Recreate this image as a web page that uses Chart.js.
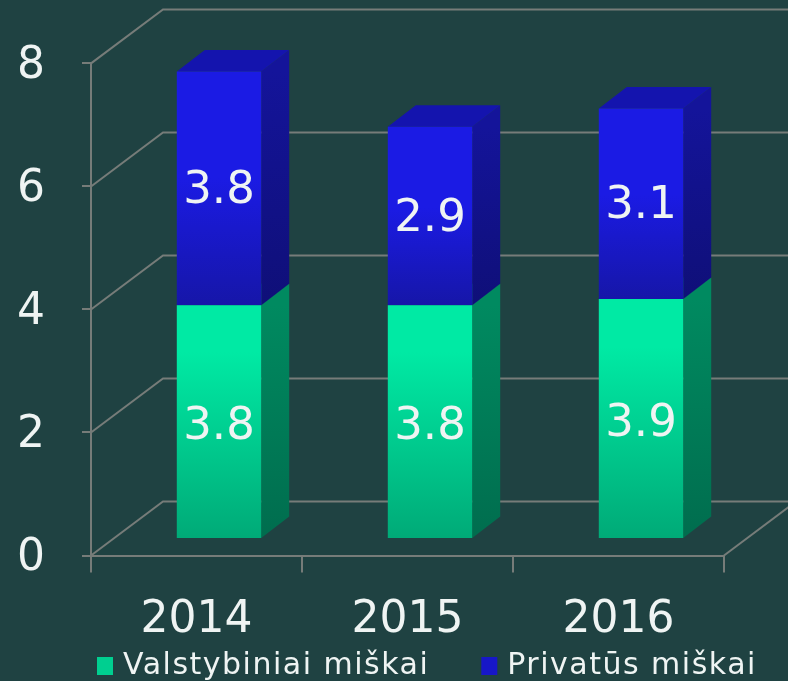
<!DOCTYPE html>
<html><head><meta charset="utf-8">
<style>html,body{margin:0;padding:0;background:#1f4242}canvas{display:block;filter:blur(0.7px)}</style>
<script src="https://cdn.jsdelivr.net/npm/chart.js@4/dist/chart.umd.min.js"></script>
</head><body><canvas id="c" width="788" height="681"></canvas>
<script>
const categories = ["2014", "2015", "2016"];
const stateForests = [3.8, 3.8, 3.9];
const privateForests = [3.8, 2.9, 3.1];
const seriesNames = ["Valstybiniai miškai", "Privatūs miškai"];
const yTicks = [0, 2, 4, 6, 8];

const FONT = '"DejaVu Sans", Verdana, sans-serif';
const BG = '#1f4242', GRID = '#767c79', TEXT = '#eff4f3';
const SHIFT = {x: 22.5, y: -16.5};      // front plane of the bars vs. axis plane
const BAR_DEPTH = {x: 28, y: -21.5};
const WALL_DEPTH = {x: 72, y: -54};
const LEGEND_SPACING = '1.5px';
const LABEL_NUDGE = [6, 3];             // vertical nudge of value labels per series
const Y_LABEL_NUDGE = 3;

const palette = [
  {top:'#00eaa4', bottom:'#00aa77', sideTop:'#008a60', sideBottom:'#006d4e', cap:'#00a070', swatch:'#00cf90'},
  {top:'#1b1be4', bottom:'#1616a8', sideTop:'#14149a', sideBottom:'#0f0f78', cap:'#1414ae', swatch:'#1717c8'}
];

function frontFill(ds) {
  return (ctx) => {
    const chart = ctx.chart, y = chart.scales.y;
    if (!y || ctx.dataIndex === undefined) return palette[ds].top;
    const base = ds === 1 ? stateForests[ctx.dataIndex] : 0;
    const val = ds === 1 ? privateForests[ctx.dataIndex] : stateForests[ctx.dataIndex];
    const g = chart.ctx.createLinearGradient(0, y.getPixelForValue(base + val), 0, y.getPixelForValue(base));
    g.addColorStop(0, palette[ds].top);
    g.addColorStop(ds === 1 ? 0.45 : 0.2, palette[ds].top);
    g.addColorStop(1, palette[ds].bottom);
    return g;
  };
}

const scene = {
  id: 'scene',
  beforeLayout(chart) {
    const lg = chart.legend;
    if (lg && !lg._wrapped) {
      lg._wrapped = true;
      const fit = lg.fit, draw = lg.draw;
      lg.fit = function () {
        this.ctx.letterSpacing = LEGEND_SPACING;
        fit.call(this);
        this.ctx.letterSpacing = '0px';
        this.height = 0;
      };
      lg.draw = function () {
        this.ctx.letterSpacing = LEGEND_SPACING;
        draw.call(this);
        this.ctx.letterSpacing = '0px';
      };
    }
  },
  afterLayout(chart) {
    const lg = chart.legend;
    lg.left = 45; lg.right = 1000; lg.width = 955;
    lg.top = 594; lg.bottom = 681;
    const ys = chart.scales.y;
    if (!ys._wrapped) {
      ys._wrapped = true;
      const drawLabels = ys.drawLabels;
      ys.drawLabels = function (area) {
        this.ctx.save();
        this.ctx.translate(0, Y_LABEL_NUDGE);
        drawLabels.call(this, area);
        this.ctx.restore();
      };
    }
  },
  beforeDraw(chart) {
    const c = chart.ctx;
    c.save(); c.fillStyle = BG; c.fillRect(0, 0, chart.width, chart.height); c.restore();
  },
  beforeDatasetsDraw(chart) {
    const c = chart.ctx, {x, y} = chart.scales;
    c.save();
    c.strokeStyle = GRID; c.lineWidth = 2;
    y.ticks.forEach(t => {
      const py = y.getPixelForValue(t.value);
      c.beginPath();
      c.moveTo(x.left, py);
      c.lineTo(x.left + WALL_DEPTH.x, py + WALL_DEPTH.y);
      c.lineTo(x.right + WALL_DEPTH.x, py + WALL_DEPTH.y);
      c.stroke();
    });
    const py0 = y.getPixelForValue(0);
    c.beginPath();
    c.moveTo(x.right, py0);
    c.lineTo(x.right + WALL_DEPTH.x, py0 + WALL_DEPTH.y);
    c.stroke();
    c.restore();

    c.save();
    c.translate(SHIFT.x, SHIFT.y);
    [0, 1].forEach(ds => {
      chart.getDatasetMeta(ds).data.forEach(bar => {
        const p = bar.getProps(['x', 'y', 'base', 'width'], true);
        const r = p.x + p.width / 2, l = p.x - p.width / 2;
        const g = c.createLinearGradient(0, p.y, 0, p.base);
        g.addColorStop(0, palette[ds].sideTop);
        g.addColorStop(1, palette[ds].sideBottom);
        c.fillStyle = g;
        c.beginPath();
        c.moveTo(r, p.y); c.lineTo(r + BAR_DEPTH.x, p.y + BAR_DEPTH.y);
        c.lineTo(r + BAR_DEPTH.x, p.base + BAR_DEPTH.y); c.lineTo(r, p.base);
        c.closePath(); c.fill();
        c.fillStyle = palette[ds].cap;
        c.beginPath();
        c.moveTo(l, p.y); c.lineTo(l + BAR_DEPTH.x, p.y + BAR_DEPTH.y);
        c.lineTo(r + BAR_DEPTH.x, p.y + BAR_DEPTH.y); c.lineTo(r, p.y);
        c.closePath(); c.fill();
      });
    });
  },
  afterDatasetsDraw(chart) {
    const c = chart.ctx;
    c.fillStyle = TEXT;
    c.font = '45px ' + FONT;
    c.textAlign = 'center'; c.textBaseline = 'middle';
    [stateForests, privateForests].forEach((vals, ds) => {
      chart.getDatasetMeta(ds).data.forEach((bar, i) => {
        const p = bar.getProps(['x', 'y', 'base'], true);
        c.fillText(vals[i].toFixed(1), p.x, (p.y + p.base) / 2 + LABEL_NUDGE[ds]);
      });
    });
    c.restore();
  }
};

new Chart(document.getElementById('c'), {
  type: 'bar',
  plugins: [scene],
  data: {
    labels: categories,
    datasets: [
      {label: seriesNames[0], data: stateForests, backgroundColor: frontFill(0), clip: false},
      {label: seriesNames[1], data: privateForests, backgroundColor: frontFill(1), clip: false}
    ]
  },
  options: {
    responsive: false,
    animation: false,
    devicePixelRatio: 1,
    layout: {padding: {top: 62, right: 64, left: 0, bottom: 0}},
    datasets: {bar: {categoryPercentage: 0.4, barPercentage: 1}},
    scales: {
      x: {
        stacked: true,
        afterFit: s => { s.height = 125.5; },
        grid: {drawOnChartArea: false, drawTicks: true, tickLength: 17, color: GRID, lineWidth: 2},
        border: {color: GRID, width: 2},
        ticks: {color: TEXT, font: {family: FONT, size: 44}, padding: 22, maxRotation: 0, autoSkip: false}
      },
      y: {
        stacked: true, min: 0, max: 8,
        afterFit: s => { s.width = 91; },
        afterBuildTicks: s => { s.ticks = yTicks.map(v => ({value: v})); },
        grid: {drawOnChartArea: false, drawTicks: true, tickLength: 9, color: GRID, lineWidth: 2},
        border: {color: GRID, width: 2},
        ticks: {color: TEXT, font: {family: FONT, size: 44}, padding: 37}
      }
    },
    plugins: {
      tooltip: {enabled: false},
      legend: {
        position: 'bottom', align: 'start',
        labels: {
          font: {family: FONT, size: 30},
          color: TEXT,
          padding: 57,
          boxWidth: 6, boxHeight: 8,
          generateLabels: () => seriesNames.map((name, i) => ({
            text: name, fillStyle: palette[i].swatch, strokeStyle: palette[i].swatch,
            lineWidth: 10, fontColor: TEXT, datasetIndex: i, hidden: false
          }))
        }
      }
    }
  }
});
</script></body></html>
